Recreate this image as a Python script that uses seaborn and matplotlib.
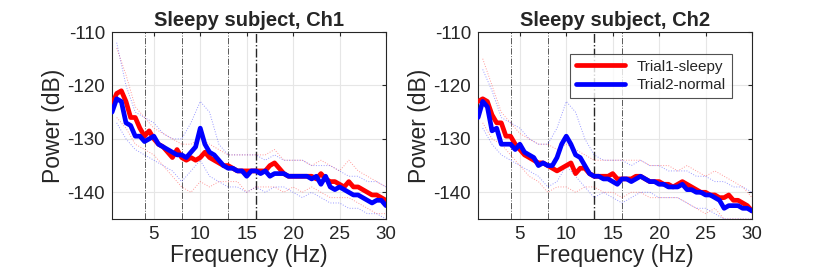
import numpy as np
import pandas as pd
import matplotlib
matplotlib.use("Agg")
import matplotlib.pyplot as plt
import seaborn as sns

# ---------------- data ----------------
freq = [0.5 * i for i in range(1, 61)]  # 0.5 .. 30 Hz
freq_env = list(range(1, 31))

ch1_sleepy = [-123.5, -121.5, -121, -123, -126, -126, -128, -129.5, -128.5, -130,
              -131, -131.5, -132.5, -133.5, -132, -133.5, -134, -133.5, -134, -133.5,
              -132.5, -133.5, -134, -134.5, -135, -135, -135.5, -136, -136, -136,
              -136, -136, -136, -136, -135, -134.5, -135.5, -136.5, -137, -137,
              -137, -137, -137, -137, -137.5, -136.5, -137.5, -138, -138, -138.5,
              -139, -138, -139, -139, -139.5, -140, -140.5, -140.5, -141, -141.5]
ch1_normal = [-125, -122.5, -123, -127, -127.5, -129.5, -129.5, -130.5, -130, -129.5,
              -131, -131.5, -132, -132.5, -133, -133, -133.5, -132.5, -131.5, -128,
              -131, -132.5, -133, -134, -135, -135.5, -135.5, -136, -136, -137,
              -136, -136, -136.5, -136, -137, -136.5, -136.5, -136.5, -137, -137,
              -137, -137, -137, -137.5, -137, -138.5, -137, -139, -139.5, -139,
              -139.5, -140, -140.5, -140.5, -141, -141.5, -142, -141.5, -141.5, -142.5]
ch2_sleepy = [-123, -122.5, -123, -125.5, -127, -127, -129.5, -129.5, -131, -132,
              -133, -133.5, -134, -134.5, -134.5, -135, -135.5, -136, -135.5, -135,
              -134.5, -136.5, -135.5, -135.5, -136.5, -137, -137, -137, -137, -136.5,
              -137.5, -137.5, -137.5, -137.5, -137, -137, -137.5, -138, -138, -138,
              -138.5, -138.5, -139, -138.5, -138, -138.5, -139, -139.5, -140, -140,
              -140.5, -140.5, -141, -141, -140.5, -141.5, -141.5, -142, -142.5, -143.5]
ch2_normal = [-126, -123, -124, -128.5, -128, -131, -131, -131, -132, -131,
              -132.5, -133, -133.5, -135, -134.5, -135, -135, -133.5, -131, -129.5,
              -131, -133, -133.5, -135, -136.5, -137, -137, -137.5, -137.5, -138,
              -138.5, -137.5, -137.5, -138, -137.5, -137, -137.5, -138, -138, -138.5,
              -138.5, -139, -139, -139, -138.5, -139.5, -139.5, -140, -140, -140.5,
              -140.5, -141, -141.5, -143, -142.5, -142.5, -142.5, -143, -143, -143.5]

# upper / lower extent of the single-trial (dotted) spectra, 1 Hz steps
ch1_sleepy_hi = [-113, -118, -124, -126, -128, -129, -130, -131, -131, -130, -131, -132, -133, -133, -133,
                 -133, -133, -132, -134, -134, -134, -135, -134, -135, -136, -134, -136, -137, -138, -139]
ch1_sleepy_lo = [-126, -128, -131, -132, -133, -135, -137, -139, -140, -138, -139, -138, -138, -138, -140,
                 -139, -139, -139, -140, -139, -140, -139, -140, -141, -141, -141, -142, -143, -144, -144]
ch1_normal_hi = [-112, -120, -125, -126, -127, -129, -130, -130, -127, -123, -125, -131, -133, -133, -133,
                 -133, -134, -133, -134, -134, -134, -135, -135, -135, -136, -137, -137, -138, -138, -139]
ch1_normal_lo = [-127, -130, -132, -133, -134, -135, -136, -138, -136, -134, -137, -138, -139, -139, -140,
                 -139, -140, -139, -139, -140, -141, -140, -141, -142, -142, -143, -143, -144, -144, -145]
ch2_sleepy_hi = [-115, -120, -125, -127, -129, -130, -131, -131, -132, -131, -132, -133, -134, -134, -134,
                 -134, -134, -134, -135, -135, -135, -136, -135, -136, -137, -136, -137, -138, -139, -141]
ch2_sleepy_lo = [-127, -130, -131, -133, -135, -137, -138, -140, -139, -139, -140, -139, -139, -140, -140,
                 -141, -140, -140, -141, -141, -141, -141, -142, -143, -144, -143, -145, -145, -145, -145]
ch2_normal_hi = [-117, -121, -126, -127, -128, -130, -131, -131, -128, -123, -125, -130, -133, -134, -134,
                 -134, -135, -134, -135, -135, -136, -136, -136, -137, -137, -138, -138, -139, -139, -140]
ch2_normal_lo = [-128, -131, -133, -134, -135, -136, -137, -139, -138, -135, -137, -139, -141, -140, -141,
                 -142, -141, -140, -140, -141, -141, -141, -142, -143, -143, -144, -145, -145, -145, -145]

band_edges = [4, 8, 13, 16]
titles = ["Sleepy subject, Ch1", "Sleepy subject, Ch2"]
series_names = ["Trial1-sleepy", "Trial2-normal"]
x_ticks = [5, 10, 15, 20, 25, 30]
y_ticks = [-140, -130, -120, -110]

# ---------------- plotting ----------------
sns.set_style("white")
plt.rcParams["font.family"] = ["Liberation Sans", "DejaVu Sans"]
plt.rcParams["axes.unicode_minus"] = False

fig = plt.figure(figsize=(8.3, 2.77), dpi=100)
ax1 = fig.add_axes([0.135, 0.2094, 0.330, 0.675])
ax2 = fig.add_axes([0.576, 0.2094, 0.330, 0.675])

colors = {"Trial1-sleepy": "#ff0000", "Trial2-normal": "#0000ff"}
panels = [
    (ax1, ch1_sleepy, ch1_normal, (ch1_sleepy_hi, ch1_sleepy_lo), (ch1_normal_hi, ch1_normal_lo), 16),
    (ax2, ch2_sleepy, ch2_normal, (ch2_sleepy_hi, ch2_sleepy_lo), (ch2_normal_hi, ch2_normal_lo), 13),
]

for i, (ax, s, n, s_env, n_env, strong) in enumerate(panels):
    ax.grid(True, color="#e6e6e6", lw=0.8, zorder=0)
    for edge in band_edges:
        ax.axvline(edge, color="0.15" if edge == strong else "0.35", ls="-.",
                   lw=1.0 if edge == strong else 0.7, zorder=1)
    # dotted single-trial extents
    for env, name in ((s_env, series_names[0]), (n_env, series_names[1])):
        for arr in env:
            ax.plot(freq_env, arr, ls=":", lw=0.7, color=colors[name], alpha=0.4, zorder=2)
    df = pd.DataFrame({
        "Frequency": freq * 2,
        "Power": s + n,
        "Trial": [series_names[0]] * len(freq) + [series_names[1]] * len(freq),
    })
    sns.lineplot(data=df, x="Frequency", y="Power", hue="Trial", palette=colors,
                 lw=3.4, ax=ax, legend=(i == 1), zorder=3)
    ax.set_xlim(0.5, 30)
    ax.set_ylim(-145, -110)
    ax.set_xticks(x_ticks)
    ax.set_yticks(y_ticks)
    ax.tick_params(direction="in", length=3, labelsize=13.5, colors="0.15",
                   top=True, right=True, pad=5)
    for sp in ax.spines.values():
        sp.set_color("0.15")
        sp.set_linewidth(0.8)
    ax.set_xlabel("Frequency (Hz)", fontsize=16.5, color="0.15", labelpad=1)
    ax.set_ylabel("Power (dB)", fontsize=16.5, color="0.15", labelpad=2)
    ax.set_title(titles[i], fontsize=14.5, fontweight="bold", pad=4)

leg = ax2.legend(loc="upper right", bbox_to_anchor=(0.955, 0.925), fontsize=11,
                 frameon=True, fancybox=False, edgecolor="0.15", handlelength=3.2,
                 borderpad=0.4, labelspacing=0.3)
leg.get_frame().set_linewidth(0.8)
for line in leg.get_lines():
    line.set_linewidth(3.4)

fig.savefig("out.png", dpi=100)
